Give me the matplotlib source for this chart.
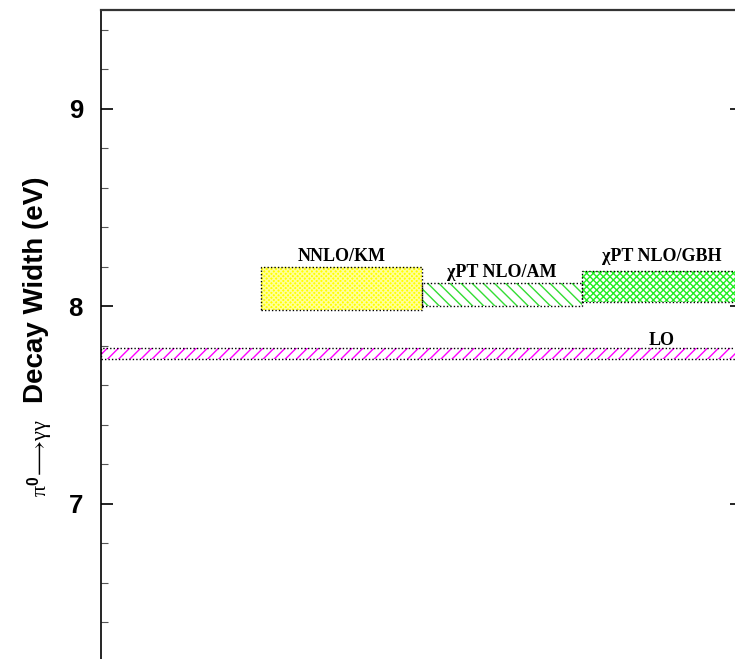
import matplotlib
matplotlib.use("Agg")
import matplotlib.pyplot as plt
from matplotlib.patches import Rectangle

plt.rcParams['hatch.linewidth'] = 1.0
plt.rcParams['mathtext.fontset'] = 'custom'
plt.rcParams['mathtext.rm'] = 'Liberation Serif'
plt.rcParams['mathtext.it'] = 'Liberation Serif'
plt.rcParams['mathtext.bf'] = 'Liberation Sans:bold'

# Data: bands (x_start, x_end, y_low, y_high)
labels = ["NNLO/KM", "\u03c7PT NLO/AM", "\u03c7PT NLO/GBH", "LO"]
x_start = [1, 2, 3, 0]
x_end = [2, 3, 4, 4]
y_low = [7.98, 8.00, 8.02, 7.733]
y_high = [8.20, 8.12, 8.18, 7.787]
label_x = [1.5, 2.5, 3.5, 3.5]
label_y = [8.229, 8.150, 8.229, 7.804]

face = ['#ffff00', 'none', 'none', 'none']
hatch_col = ['#ffff99', '#33dd33', '#22ee22', '#ff00ff']
hatches = ['xxxxxxx', '\\\\\\', 'xxxxx', '///']

fig = plt.figure(figsize=(7.35, 6.59), dpi=100)
W, H = 735, 659
ppu = 197.5
ylo, yhi = 6.0, 9.5
top_px = 10
bot_px = top_px + (yhi - ylo) * ppu
left_px, right_px = 101, 742
ax = fig.add_axes([left_px / W, (H - bot_px) / H, (right_px - left_px) / W, (bot_px - top_px) / H])
ax.set_xlim(0, 4)
ax.set_ylim(ylo, yhi)

for i in range(4):
    ax.add_patch(Rectangle((x_start[i], y_low[i]), x_end[i] - x_start[i], y_high[i] - y_low[i],
                           facecolor=face[i], edgecolor=hatch_col[i], hatch=hatches[i], linewidth=0, zorder=2))
    ax.add_patch(Rectangle((x_start[i], y_low[i]), x_end[i] - x_start[i], y_high[i] - y_low[i],
                           facecolor='none', edgecolor='black', linestyle=(0, (1, 1.5)), linewidth=1.0, zorder=3))
    ax.text(label_x[i], label_y[i], labels[i], ha='center', va='baseline',
            family='Liberation Serif', weight='bold', fontsize=13, zorder=4)

ax.set_yticks([7, 8, 9])
ax.set_yticks([6.2, 6.4, 6.6, 6.8, 7.2, 7.4, 7.6, 7.8, 8.2, 8.4, 8.6, 8.8, 9.2, 9.4], minor=True)
ax.set_yticklabels(['7', '8', '9'], family='Liberation Sans', weight='bold', fontsize=18.5)
ax.tick_params(axis='y', which='major', direction='in', length=8.6, width=1.2, right=True, pad=13)
ax.tick_params(axis='y', which='minor', direction='in', length=5, width=0.8, right=True, color='#555555')
ax.set_xticks([])
for s in ['bottom', 'right']:
    ax.spines[s].set_visible(False)
ax.spines['left'].set_linewidth(1.2)
ax.spines['top'].set_linewidth(1.6)
ax.spines['top'].set_color('#333333')

fig.text(36 / W, 1 - 290 / H, 'Decay Width (eV)',
         rotation=90, ha='center', va='center', family='Liberation Sans', weight='bold', fontsize=20)
fig.text(40 / W, 1 - 458 / H, r'$\mathrm{\pi}^{\mathbf{0}}\!\longrightarrow\!\mathrm{\gamma\gamma}$',
         rotation=90, ha='center', va='center', fontsize=16)

fig.savefig('out.png', dpi=100)
